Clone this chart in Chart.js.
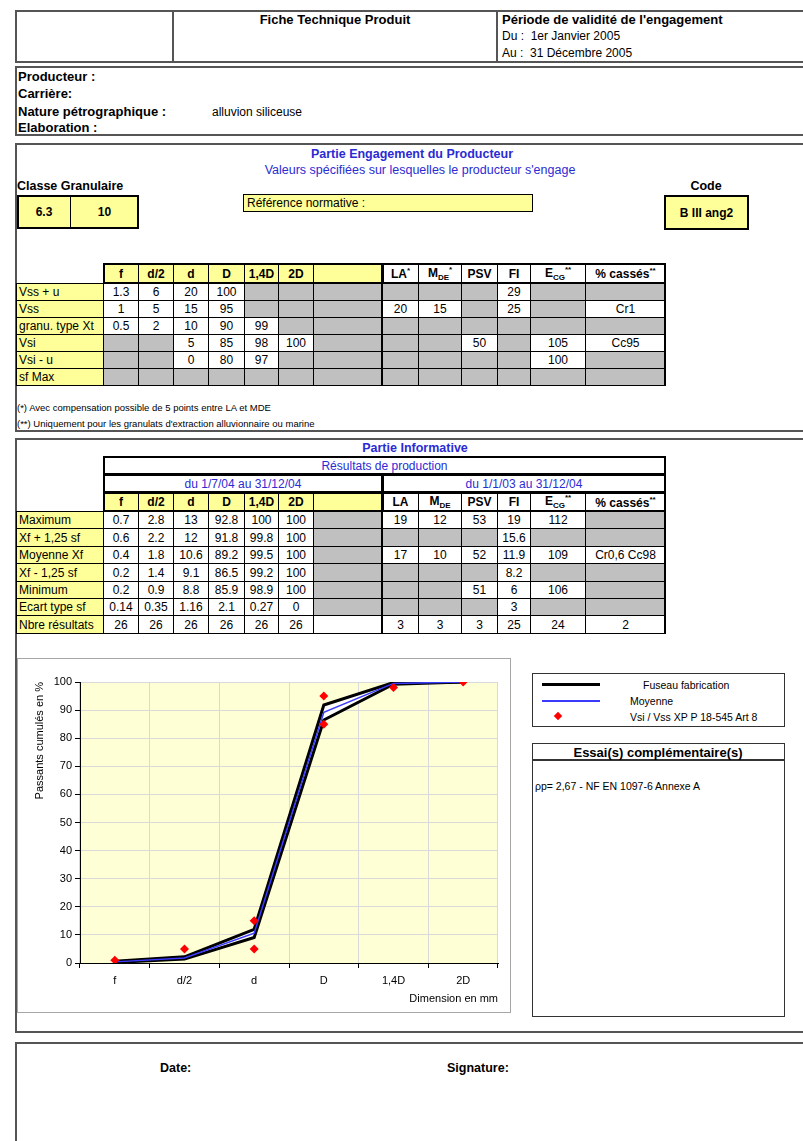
<!DOCTYPE html>
<html>
<head>
<meta charset="utf-8">
<script src="https://cdn.jsdelivr.net/npm/chart.js@4.4.0/dist/chart.umd.min.js"></script>
<style>
  body { margin: 0; width: 803px; height: 1141px; position: relative; overflow: hidden; background: #fff;
         font-family: "Liberation Sans", Arial, sans-serif; color: #000; }
  .box { position: absolute; box-sizing: border-box; border: 2px solid #555; }
  .t { position: absolute; white-space: nowrap; transform: translateY(-50%); font-size: 12px; }
  .c { transform: translate(-50%, -50%); }
  .b { font-weight: bold; }
  .blue { color: #2b2bd3; }
  .cell { position: absolute; box-sizing: border-box; border: 1px solid #000; font-size: 12px;
          display: flex; align-items: center; justify-content: center; white-space: nowrap; }
  .cell sub, .cell sup { font-size: 8px; }
  .frame { position: absolute; box-sizing: border-box; border: 2px solid #000; }
  .vline { position: absolute; background: #555; width: 2px; }
</style>
</head>
<body>

<!-- en-tete -->
<div class="box" style="left:15px; top:10px; width:800px; height:53px;"></div>
<div class="vline" style="left:172px; top:10px; height:53px;"></div>
<div class="vline" style="left:496px; top:10px; height:53px;"></div>
<div class="t c b" style="left:335px; top:19px; font-size:13px;">Fiche Technique Produit</div>
<div class="t b" style="left:502px; top:19px; font-size:13px;">Période de validité de l'engagement</div>
<div class="t" style="left:502px; top:36px;">Du :&nbsp; 1er Janvier 2005</div>
<div class="t" style="left:502px; top:53px;">Au :&nbsp; 31 Décembre 2005</div>

<div class="box" style="left:15px; top:66px; width:800px; height:70px;"></div>
<div class="t b" style="left:18px; top:76px; font-size:13px;">Producteur :</div>
<div class="t b" style="left:18px; top:93px; font-size:13px;">Carrière:</div>
<div class="t b" style="left:18px; top:111px; font-size:13px;">Nature pétrographique :</div>
<div class="t" style="left:212px; top:112px;">alluvion siliceuse</div>
<div class="t b" style="left:18px; top:127px; font-size:13px;">Elaboration :</div>

<!-- partie engagement -->
<div class="box" style="left:15px; top:143px; width:800px; height:289px;"></div>
<div class="t c b blue" style="left:412px; top:154px; font-size:12.5px;">Partie Engagement du Producteur</div>
<div class="t c blue" style="left:420px; top:170px; font-size:12.5px;">Valeurs spécifiées sur lesquelles le producteur s'engage</div>
<div class="t b" style="left:17px; top:186px; font-size:12.5px;">Classe Granulaire</div>
<div class="t c b" style="left:706px; top:186px; font-size:12.5px;">Code</div>
<div id="engagement"></div>
<div class="t" style="left:17px; top:407px; font-size:9.5px;">(*) Avec compensation possible de 5 points entre LA et MDE</div>
<div class="t" style="left:17px; top:423px; font-size:9.5px;">(**) Uniquement pour les granulats d'extraction alluvionnaire ou marine</div>

<!-- partie informative -->
<div class="box" style="left:15px; top:438px; width:800px; height:595px;"></div>
<div class="t c b blue" style="left:415px; top:448px; font-size:12.5px;">Partie Informative</div>

<!-- graphique -->
<div style="position:absolute; left:17px; top:658px; width:494px; height:355px; box-sizing:border-box; border:1px solid #a6a6a6;"></div>
<div style="position:absolute; left:17px; top:658px; width:494px; height:355px;">
  <canvas id="courbe"></canvas>
</div>

<!-- legende -->
<div style="position:absolute; left:532px; top:673px; width:253px; height:54px; box-sizing:border-box; border:1.5px solid #333;"></div>
<div style="position:absolute; left:542px; top:683px; width:58px; height:3px; background:#000;"></div>
<div style="position:absolute; left:542px; top:700px; width:58px; height:2px; background:#3b3bff;"></div>
<div style="position:absolute; left:555px; top:713px; width:6px; height:6px; background:#ff0000; transform:rotate(45deg);"></div>
<div class="t" style="left:643px; top:685px; font-size:10.5px;">Fuseau fabrication</div>
<div class="t" style="left:630px; top:701px; font-size:10.5px;">Moyenne</div>
<div class="t" style="left:630px; top:717px; font-size:10.5px;">Vsi / Vss XP P 18-545 Art 8</div>

<div style="position:absolute; left:532px; top:743px; width:253px; height:274px; box-sizing:border-box; border:1.5px solid #333;"></div>
<div style="position:absolute; left:532px; top:759px; width:253px; height:1.5px; background:#333;"></div>
<div class="t c b" style="left:658px; top:752px; font-size:13px;">Essai(s) complémentaire(s)</div>
<div class="t" style="left:535px; top:786px; font-size:10.5px;">ρp= 2,67 - NF EN 1097-6 Annexe A</div>

<!-- signature -->
<div class="box" style="left:15px; top:1042px; width:800px; height:140px;"></div>
<div class="t b" style="left:160px; top:1068px; font-size:12.5px;">Date:</div>
<div class="t b" style="left:447px; top:1068px; font-size:12.5px;">Signature:</div>

<script>
const categories = ['f', 'd/2', 'd', 'D', '1,4D', '2D'];
const classeGranulaire = ['6.3', '10'];
const code = 'B III ang2';

// Partie engagement : 6 tamis, colonne vide, LA, MDE, PSV, FI, ECG, % cassés
const engLabels = ['Vss + u', 'Vss', 'granu. type Xt', 'Vsi', 'Vsi - u', 'sf Max'];
const engVssU = [1.3, 6, 20, 100, null, null, null, null, null, null, 29, null, null];
const engVss = [1, 5, 15, 95, null, null, null, 20, 15, null, 25, null, 'Cr1'];
const engGranu = [0.5, 2, 10, 90, 99, null, null, null, null, null, null, null, null];
const engVsi = [null, null, 5, 85, 98, 100, null, null, null, 50, null, 105, 'Cc95'];
const engVsiU = [null, null, 0, 80, 97, null, null, null, null, null, null, 100, null];
const engSfMax = [null, null, null, null, null, null, null, null, null, null, null, null, null];

// Partie informative : resultats de production
const prodLabels = ['Maximum', 'Xf + 1,25 sf', 'Moyenne Xf', 'Xf - 1,25 sf', 'Minimum', 'Ecart type sf', 'Nbre résultats'];
const prodMax = [0.7, 2.8, 13, 92.8, 100, 100, null, 19, 12, 53, 19, 112, null];
const prodXfPlus = [0.6, 2.2, 12, 91.8, 99.8, 100, null, null, null, null, 15.6, null, null];
const prodMoyenne = [0.4, 1.8, 10.6, 89.2, 99.5, 100, null, 17, 10, 52, 11.9, 109, 'Cr0,6 Cc98'];
const prodXfMoins = [0.2, 1.4, 9.1, 86.5, 99.2, 100, null, null, null, null, 8.2, null, null];
const prodMin = [0.2, 0.9, 8.8, 85.9, 98.9, 100, null, null, null, 51, 6, 106, null];
const prodEcart = [0.14, 0.35, 1.16, 2.1, 0.27, 0, null, null, null, null, 3, null, null];
const prodNbre = [26, 26, 26, 26, 26, 26, '', 3, 3, 3, 25, 24, 2];

const JAUNE = '#ffff99';
const GRIS = '#c0c0c0';
const cx = [16, 103, 138, 173, 208, 244, 278, 313, 382, 418, 461, 497, 530, 585, 665];

function cell(x0, x1, y0, y1, html, bg, opt) {
  opt = opt || {};
  const d = document.createElement('div');
  d.className = 'cell';
  d.style.left = x0 + 'px';
  d.style.top = y0 + 'px';
  d.style.width = (x1 - x0 + 1) + 'px';
  d.style.height = (y1 - y0 + 1) + 'px';
  d.style.background = bg;
  if (opt.left) { d.style.justifyContent = 'flex-start'; d.style.paddingLeft = '2px'; }
  if (opt.bold) d.style.fontWeight = 'bold';
  if (opt.color) d.style.color = opt.color;
  if (opt.size) d.style.fontSize = opt.size + 'px';
  d.innerHTML = '<span>' + html + '</span>';
  document.body.appendChild(d);
}

function frame(x0, x1, y0, y1) {
  const d = document.createElement('div');
  d.className = 'frame';
  d.style.left = x0 + 'px';
  d.style.top = y0 + 'px';
  d.style.width = (x1 - x0 + 1) + 'px';
  d.style.height = (y1 - y0 + 1) + 'px';
  document.body.appendChild(d);
}

function headerRow(y0, y1, essais) {
  for (let j = 0; j < 7; j++) {
    cell(cx[j + 1], cx[j + 2], y0, y1, categories[j] || '', JAUNE, { bold: true });
  }
  essais.forEach(function (e, j) {
    cell(cx[j + 8], cx[j + 9], y0, y1, e, '#fff', { bold: true });
  });
  frame(cx[1], cx[8], y0, y1);
  frame(cx[8], cx[14], y0, y1);
}

function bodyRows(labels, rows, y0, h) {
  rows.forEach(function (r, i) {
    const a = Math.round(y0 + i * h), b = Math.round(y0 + (i + 1) * h);
    cell(cx[0], cx[1], a, b, labels[i], JAUNE, { left: true });
    r.forEach(function (v, j) {
      cell(cx[j + 1], cx[j + 2], a, b, v === null ? '' : String(v), v === null ? GRIS : '#fff');
    });
  });
  const yEnd = Math.round(y0 + rows.length * h);
  const d = document.createElement('div');
  d.className = 'vline';
  d.style.background = '#000';
  d.style.left = (cx[8] - 1) + 'px';
  d.style.top = y0 + 'px';
  d.style.height = (yEnd - y0) + 'px';
  document.body.appendChild(d);
  const e = d.cloneNode();
  e.style.left = (cx[14] - 1) + 'px';
  document.body.appendChild(e);
}

// classe granulaire, reference, code
cell(17, 70, 195, 228, classeGranulaire[0], JAUNE, { bold: true });
cell(70, 138, 195, 228, classeGranulaire[1], JAUNE, { bold: true });
frame(17, 138, 195, 228);
const ref = document.createElement('div');
ref.className = 'cell';
Object.assign(ref.style, { left: '243px', top: '194px', width: '290px', height: '18px', background: JAUNE, justifyContent: 'flex-start', paddingLeft: '3px', borderWidth: '1.5px' });
ref.textContent = 'Référence normative :';
document.body.appendChild(ref);
cell(664, 748, 195, 229, code, JAUNE, { bold: true });
frame(664, 748, 195, 229);

// tableau engagement
headerRow(263, 283, ['LA<sup>*</sup>', 'M<sub>DE</sub><sup>*</sup>', 'PSV', 'FI', 'E<sub>CG</sub><sup>**</sup>', '% cassés<sup>**</sup>']);
bodyRows(engLabels, [engVssU, engVss, engGranu, engVsi, engVsiU, engSfMax], 283, 17);

// tableau production
cell(cx[1], cx[14], 456, 474, 'Résultats de production', '#fff', { color: '#2b2bd3' });
frame(cx[1], cx[14], 456, 474);
cell(cx[1], cx[8], 474, 492, 'du 1/7/04 au 31/12/04', '#fff', { color: '#2b2bd3' });
cell(cx[8], cx[14], 474, 492, 'du 1/1/03 au 31/12/04', '#fff', { color: '#2b2bd3' });
frame(cx[1], cx[8], 474, 492);
frame(cx[8], cx[14], 474, 492);
headerRow(492, 511, ['LA', 'M<sub>DE</sub>', 'PSV', 'FI', 'E<sub>CG</sub><sup>**</sup>', '% cassés<sup>**</sup>']);
bodyRows(prodLabels, [prodMax, prodXfPlus, prodMoyenne, prodXfMoins, prodMin, prodEcart, prodNbre], 511, 17.4);

// courbe granulometrique
const fondJaune = {
  id: 'fondJaune',
  beforeDraw(chart) {
    const a = chart.chartArea;
    const ctx = chart.ctx;
    ctx.save();
    ctx.fillStyle = '#ffffd6';
    ctx.fillRect(a.left, a.top, a.right - a.left, a.bottom - a.top);
    ctx.restore();
  }
};

Chart.defaults.font.family = '"Liberation Sans", Arial, sans-serif';
Chart.defaults.font.size = 11;
Chart.defaults.color = '#000';

new Chart(document.getElementById('courbe'), {
  type: 'line',
  data: {
    labels: categories,
    datasets: [
      {
        label: 'Xf + 1,25 sf',
        data: prodXfPlus.slice(0, 6),
        borderColor: '#000',
        borderWidth: 3,
        pointRadius: 0,
        order: 2,
      },
      {
        label: 'Xf - 1,25 sf',
        data: prodXfMoins.slice(0, 6),
        borderColor: '#000',
        borderWidth: 3,
        pointRadius: 0,
        fill: '-1',
        backgroundColor: '#ffffff',
        order: 2,
      },
      {
        label: 'Moyenne',
        data: prodMoyenne.slice(0, 6),
        borderColor: '#3b3bff',
        borderWidth: 1.5,
        pointRadius: 0,
        order: 1,
      },
      {
        label: 'Vss',
        data: engVss.slice(0, 6),
        showLine: false,
        pointStyle: 'rectRot',
        pointRadius: 4.5,
        backgroundColor: '#ff0000',
        borderColor: '#ff0000',
        borderWidth: 0,
        order: 0,
      },
      {
        label: 'Vsi',
        data: engVsi.slice(0, 6),
        showLine: false,
        pointStyle: 'rectRot',
        pointRadius: 4.5,
        backgroundColor: '#ff0000',
        borderColor: '#ff0000',
        borderWidth: 0,
        order: 0,
      },
    ],
  },
  options: {
    responsive: true,
    maintainAspectRatio: false,
    animation: false,
    layout: { padding: { top: 24, right: 13, left: 0, bottom: 0 } },
    plugins: {
      legend: { display: false },
      tooltip: { enabled: false },
      filler: { drawTime: 'beforeDatasetsDraw' },
    },
    scales: {
      x: {
        offset: true,
        grid: { offset: true, color: '#d9d9d9', tickColor: '#000', tickLength: 5 },
        border: { color: '#000' },
        ticks: { padding: 6 },
        title: { display: true, text: 'Dimension en mm', align: 'end', padding: { top: 4, bottom: 7 } },
        afterFit: function (scale) { scale.height = 50; },
      },
      y: {
        min: 0,
        max: 100,
        ticks: { stepSize: 10, padding: 3 },
        grid: { color: '#d9d9d9', tickColor: '#000', tickLength: 5 },
        border: { color: '#000' },
        title: { display: true, text: 'Passants cumulés en %', align: 'end', padding: { top: 16, bottom: 4 } },
        afterFit: function (scale) { scale.width = 63; },
      },
    },
  },
  plugins: [fondJaune],
});
</script>
</body>
</html>
